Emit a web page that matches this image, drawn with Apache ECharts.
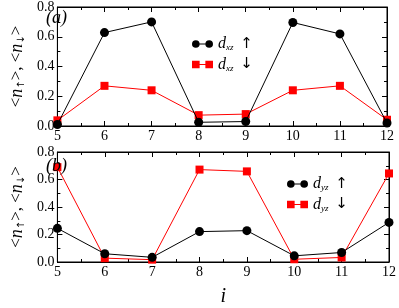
<!DOCTYPE html>
<html><head><meta charset="utf-8">
<script src="https://cdn.jsdelivr.net/npm/echarts@6/dist/echarts.min.js"></script>
<style>html,body{margin:0;padding:0;background:#fff}#c{width:399px;height:308px}</style>
</head><body><div id="c"></div>
<script>
const sites = [5, 6, 7, 8, 9, 10, 11, 12];
const dxzUp   = [0.01, 0.628, 0.70, 0.025, 0.03, 0.696, 0.619, 0.02];
const dxzDown = [0.038, 0.27, 0.24, 0.073, 0.08, 0.24, 0.27, 0.042];
const dyzUp   = [0.245, 0.06, 0.034, 0.221, 0.228, 0.045, 0.069, 0.288];
const dyzDown = [0.69, 0.028, 0.017, 0.672, 0.659, 0.02, 0.033, 0.644];
const yTicks = [0, 0.2, 0.4, 0.6, 0.8];
const xTicks = [5, 6, 7, 8, 9, 10, 11, 12];

const pairs = v => sites.map((s, i) => [s, v[i]]);
const FONT = '"Liberation Serif", "DejaVu Serif", serif';
const chart = echarts.init(document.getElementById('c'), null, {renderer: 'canvas'});

const circIcon = 'path://M0,4A4,4 0 1,1 8,4A4,4 0 1,1 0,4Z M7,3.5L15,3.5L15,4.5L7,4.5Z M14,4A4,4 0 1,1 22,4A4,4 0 1,1 14,4Z';
const sqIcon = 'path://M0,0L8,0L8,8L0,8Z M7,3.5L15,3.5L15,4.5L7,4.5Z M14,0L22,0L22,8L14,8Z';

function xAx(grid, pos, labels, name) {
  return {
    type: 'value', gridIndex: grid, position: pos, min: 5, max: 12, interval: 1,
    axisLine: {show: true, onZero: false, lineStyle: {color: '#000', width: 1}},
    axisTick: {show: true, inside: true, length: 5, lineStyle: {color: '#000'}},
    minorTick: {show: true, splitNumber: 2, length: 3, lineStyle: {color: '#000'}},
    axisLabel: {show: labels, color: '#000', fontFamily: FONT, fontSize: 14, margin: 3,
      formatter: v => xTicks.includes(v) ? String(v) : ''},
    splitLine: {show: false},
    name: name || '', nameLocation: 'middle', nameGap: 25,
    nameTextStyle: {fontFamily: FONT, fontStyle: 'italic', fontSize: 20, color: '#000'}
  };
}
function yAx(grid, pos, labels) {
  return {
    type: 'value', gridIndex: grid, position: pos, min: 0, max: 0.8, interval: 0.2,
    axisLine: {show: true, onZero: false, lineStyle: {color: '#000', width: 1}},
    axisTick: {show: true, inside: true, length: 5, lineStyle: {color: '#000'}},
    minorTick: {show: true, splitNumber: 2, length: 3, lineStyle: {color: '#000'}},
    axisLabel: {show: labels, color: '#000', fontFamily: FONT, fontSize: 14, margin: 3,
      formatter: v => { const t = yTicks.find(k => Math.abs(k - v) < 1e-9); return t === undefined ? '' : t.toFixed(1); }},
    splitLine: {show: false},
    name: labels ? '<{s|n}{sb|↑}>, <{s|n}{sb|↓}>' : '',
    nameLocation: 'middle', nameRotate: 90, nameGap: 31,
    nameTextStyle: {fontFamily: FONT, fontSize: 17, color: '#000',
      rich: {s: {fontFamily: FONT, fontStyle: 'italic', fontSize: 18},
             sb: {fontFamily: '"DejaVu Sans"', fontSize: 10, verticalAlign: 'bottom', padding: [6, 0, 0, 0]}}}
  };
}
function ser(name, data, xi, yi, color, symbol) {
  return {
    name, type: 'line', xAxisIndex: xi, yAxisIndex: yi, data: pairs(data),
    symbol, symbolSize: symbol === 'circle' ? 9 : 8, showSymbol: true,
    lineStyle: {color, width: 1}, itemStyle: {color}, animation: false, z: symbol === 'circle' ? 3 : 2
  };
}
const legText = (orb, arr) => '{d|d}{sb|' + orb + '}  {a|' + arr + '}';
const legRich = {
  d: {fontFamily: FONT, fontStyle: 'italic', fontSize: 16, color: '#000'},
  sb: {fontFamily: FONT, fontStyle: 'italic', fontSize: 9, color: '#000', verticalAlign: 'bottom', padding: [8, 0, 0, 0]},
  a: {fontFamily: '"DejaVu Sans"', fontSize: 15, color: '#000'}
};

chart.setOption({
  animation: false,
  title: [
    {text: '(a)', left: 46, top: 9, padding: 0, textStyle: {fontFamily: FONT, fontStyle: 'italic', fontWeight: 'normal', fontSize: 18, color: '#000'}},
    {text: '(b)', left: 46, top: 157, padding: 0, textStyle: {fontFamily: FONT, fontStyle: 'italic', fontWeight: 'normal', fontSize: 18, color: '#000'}}
  ],
  grid: [
    {left: 39, right: 12, top: 5, height: 121, show: true, borderColor: '#000', borderWidth: 1, backgroundColor: 'transparent'},
    {left: 40, right: 7.5, top: 152, height: 123, show: true, borderColor: '#000', borderWidth: 1, backgroundColor: 'transparent'}
  ],
  xAxis: [xAx(0, 'bottom', true), xAx(0, 'top', false), xAx(1, 'bottom', true, 'i'), xAx(1, 'top', false)],
  yAxis: [yAx(0, 'left', true), yAx(0, 'right', false), yAx(1, 'left', true), yAx(1, 'right', false)],
  legend: [
    {data: [{name: 'dxzUp', icon: circIcon}, {name: 'dxzDown', icon: sqIcon}], orient: 'vertical', left: 187, top: 31,
     itemWidth: 21, itemHeight: 8, itemGap: 4, selectedMode: false,
     formatter: n => n === 'dxzUp' ? legText('xz', '↑') : legText('xz', '↓'),
     textStyle: {rich: legRich}},
    {data: [{name: 'dyzUp', icon: circIcon}, {name: 'dyzDown', icon: sqIcon}], orient: 'vertical', left: 282, top: 171,
     itemWidth: 21, itemHeight: 8, itemGap: 4, selectedMode: false,
     formatter: n => n === 'dyzUp' ? legText('yz', '↑') : legText('yz', '↓'),
     textStyle: {rich: legRich}}
  ],
  series: [
    ser('dxzUp', dxzUp, 0, 0, '#000', 'circle'),
    ser('dxzDown', dxzDown, 0, 0, '#ff0000', 'rect'),
    ser('dyzUp', dyzUp, 2, 2, '#000', 'circle'),
    ser('dyzDown', dyzDown, 2, 2, '#ff0000', 'rect')
  ]
});
</script></body></html>
